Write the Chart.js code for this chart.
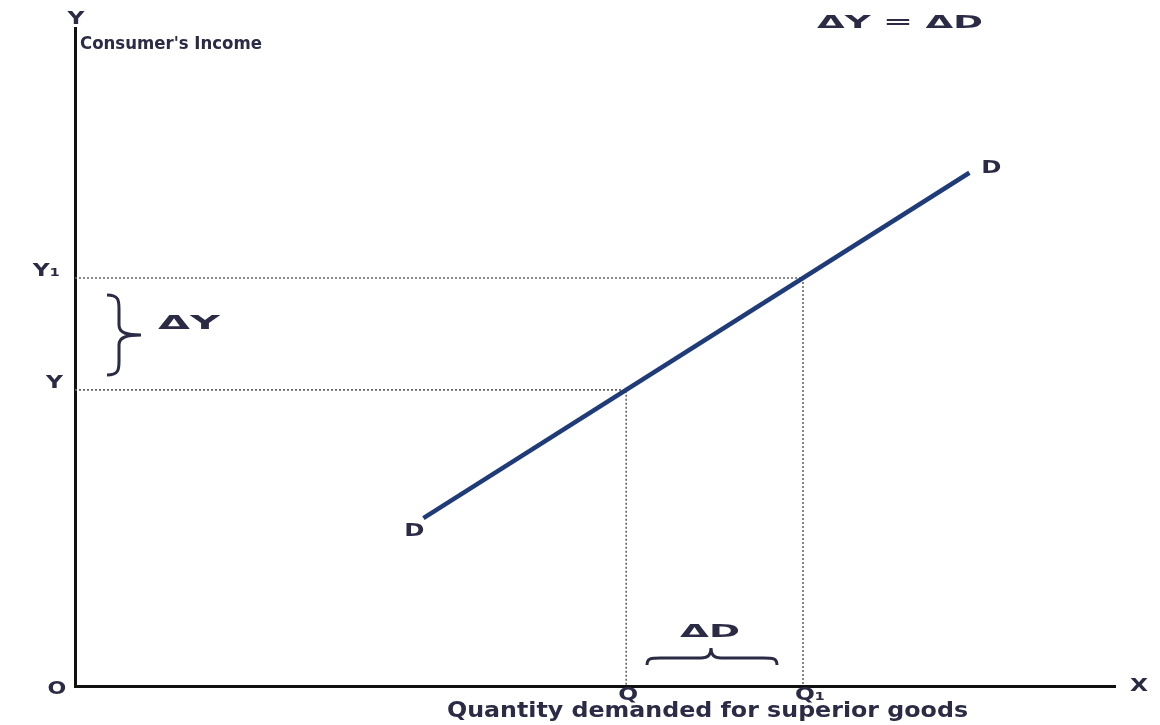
<!DOCTYPE html>
<html>
<head>
<meta charset="utf-8">
<script src="https://cdn.jsdelivr.net/npm/chart.js@4/dist/chart.umd.min.js"></script>
<style>
  html, body { margin: 0; padding: 0; background: #fff; }
  #wrap { width: 1160px; height: 725px; }
</style>
</head>
<body>
<div id="wrap"><canvas id="demandChart"></canvas></div>
<script>
// Income-demand curve (superior goods), axes run 0..100
const demandX = [33.5, 86];
const demandY = [25.5, 78];

const qValues = [53, 70];        // Q, Q1
const yValues = [45, 62];        // Y, Y1
const xTickLabels = ["Q", "Q\u2081"];
const yTickLabels = ["Y", "Y\u2081"];

const inkColor = "#2b2b45";
const lineColor = "#1f3b78";
const labelFont = "DejaVu Sans";

// Dotted guide lines from the axes to the curve
function guideLines() {
  const sets = [];
  for (let i = 0; i < qValues.length; i++) {
    sets.push({
      data: [
        { x: 0, y: yValues[i] },
        { x: qValues[i], y: yValues[i] },
        { x: qValues[i], y: 0 },
      ],
      borderColor: "#666666",
      borderWidth: 1.6,
      borderDash: [2, 2],
      pointRadius: 0,
      showLine: true,
      fill: false,
    });
  }
  return sets;
}

const labelPlugin = {
  id: "econLabels",
  afterDraw(chart) {
    const ctx = chart.ctx;
    const xs = chart.scales.x;
    const ys = chart.scales.y;
    const area = chart.chartArea;
    const px = (v) => xs.getPixelForValue(v);
    const py = (v) => ys.getPixelForValue(v);

    // the original lettering is wide, so stretch text horizontally
    function label(text, x, y, size, sx, align) {
      ctx.save();
      ctx.font = `bold ${size}px "${labelFont}"`;
      ctx.textAlign = align || "center";
      ctx.translate(x, y);
      ctx.scale(sx, 1);
      ctx.fillText(text, 0, 0);
      ctx.restore();
    }
    // stretch text to fill a given width starting at x
    function fitted(text, x, y, size, width) {
      ctx.font = `bold ${size}px "${labelFont}"`;
      const w = ctx.measureText(text).width;
      label(text, x, y, size, width / w, "left");
    }

    ctx.save();
    ctx.fillStyle = inkColor;
    ctx.strokeStyle = inkColor;
    ctx.textBaseline = "middle";

    // axis letters
    label("Y", area.left + 1, area.top - 9, 18, 1.3);
    label("X", area.right + 24, area.bottom, 18, 1.3);
    label("O", area.left - 18, area.bottom + 4, 17, 1.3);

    // tick labels for Y and Y1, Q and Q1
    for (let i = 0; i < yValues.length; i++) {
      label(yTickLabels[i], area.left - 12 - i * 3, py(yValues[i]) - 7, 18, 1.3, "right");
      label(xTickLabels[i], px(qValues[i]) + 2 + i * 5, area.bottom + 9, 18, 1.3);
    }

    // curve labels
    label("D", px(demandX[0]) - 9, py(demandY[0]) + 13, 18, 1.35);
    label("D", px(demandX[1]) + 22, py(demandY[1]) - 4, 18, 1.35);

    // titles
    fitted("Consumer's Income", area.left + 5, 45, 17, 182);
    fitted("\u0394Y = \u0394D", 817, 23, 18, 166);
    fitted("Quantity demanded for superior goods", 447, 712, 21, 521);

    // delta labels
    fitted("\u0394Y", 158, 324, 19, 62);
    fitted("\u0394D", 680, 632, 18, 60);

    // vertical brace beside the axis
    ctx.lineWidth = 3;
    const bx = 107;
    const sp = bx + 12;
    const top = 295;
    const bot = 375;
    const mid = (top + bot) / 2;
    ctx.beginPath();
    ctx.moveTo(bx, top);
    ctx.bezierCurveTo(sp, top, sp, top + 6, sp, top + 14);
    ctx.lineTo(sp, mid - 10);
    ctx.bezierCurveTo(sp, mid - 2, sp + 8, mid, sp + 22, mid);
    ctx.bezierCurveTo(sp + 8, mid, sp, mid + 2, sp, mid + 10);
    ctx.lineTo(sp, bot - 14);
    ctx.bezierCurveTo(sp, bot - 6, sp, bot, bx, bot);
    ctx.stroke();

    // horizontal brace under delta D
    const l = 647;
    const r = 777;
    const c = 711;
    const by = 665;
    ctx.beginPath();
    ctx.moveTo(l, by);
    ctx.bezierCurveTo(l, by - 7, l + 4, by - 7, l + 14, by - 7);
    ctx.lineTo(c - 10, by - 7);
    ctx.bezierCurveTo(c - 3, by - 7, c, by - 10, c, by - 17);
    ctx.bezierCurveTo(c, by - 10, c + 3, by - 7, c + 10, by - 7);
    ctx.lineTo(r - 14, by - 7);
    ctx.bezierCurveTo(r - 4, by - 7, r, by - 7, r, by);
    ctx.stroke();

    ctx.restore();
  },
};

const whiteBackground = {
  id: "whiteBackground",
  beforeDraw(chart) {
    const ctx = chart.ctx;
    ctx.save();
    ctx.fillStyle = "#ffffff";
    ctx.fillRect(0, 0, chart.width, chart.height);
    ctx.restore();
  },
};

document.addEventListener("DOMContentLoaded", () => {
  const ctx = document.getElementById("demandChart").getContext("2d");
  new Chart(ctx, {
    type: "scatter",
    data: {
      datasets: [
        {
          data: demandX.map((x, i) => ({ x: x, y: demandY[i] })),
          borderColor: lineColor,
          borderWidth: 4.5,
          pointRadius: 0,
          showLine: true,
          fill: false,
        },
        ...guideLines(),
      ],
    },
    options: {
      responsive: true,
      maintainAspectRatio: false,
      animation: false,
      layout: { padding: { left: 75, right: 45, top: 28, bottom: 39 } },
      plugins: { legend: { display: false }, tooltip: { enabled: false } },
      scales: {
        x: {
          type: "linear",
          min: 0,
          max: 100,
          grid: { display: false, drawTicks: false },
          ticks: { display: false },
          border: { display: true, color: "#111111", width: 3 },
        },
        y: {
          type: "linear",
          min: 0,
          max: 100,
          grid: { display: false, drawTicks: false },
          ticks: { display: false },
          border: { display: true, color: "#111111", width: 3 },
        },
      },
    },
    plugins: [whiteBackground, labelPlugin],
  });
});
</script>
</body>
</html>
